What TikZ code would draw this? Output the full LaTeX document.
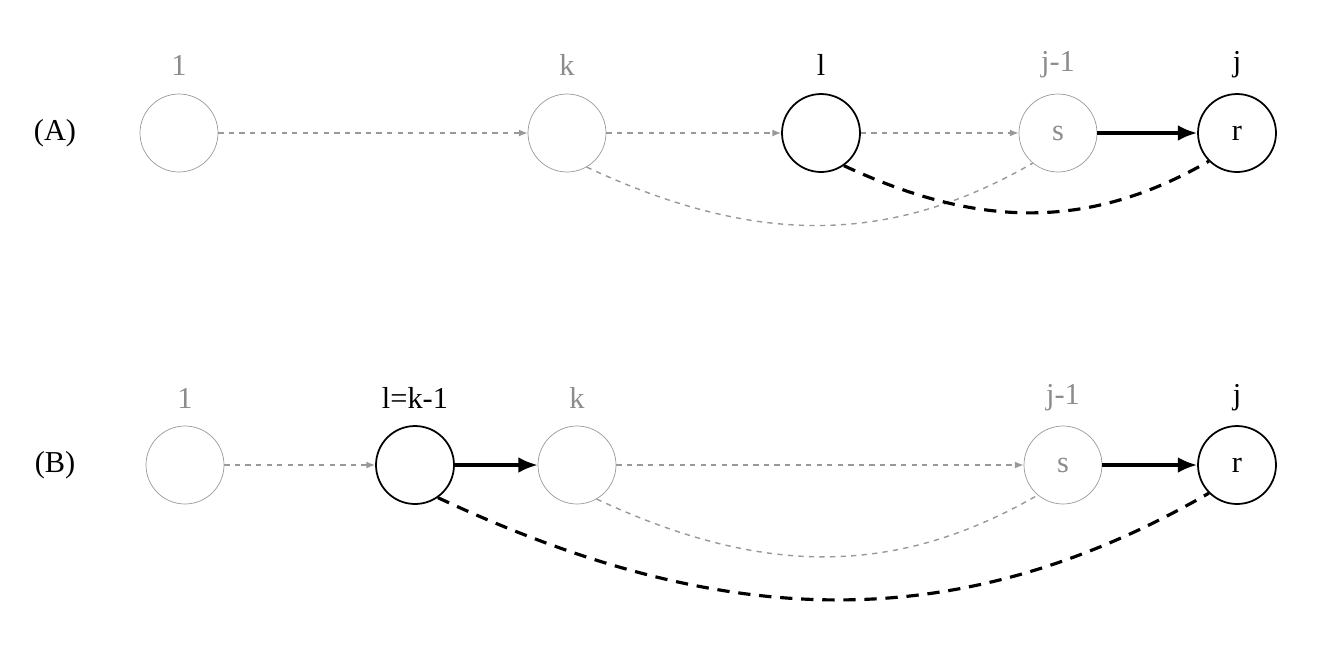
\documentclass[tikz,border=0pt]{standalone}
\usepackage{fontspec}
\setmainfont{Liberation Serif}
\usetikzlibrary{arrows.meta}
\newcommand{\nodeRadius}{0.78cm}
\newcommand{\thinLineWidth}{0.8pt}
\newcommand{\thickLineWidth}{1.8pt}
\tikzset{
  faded/.style={circle, draw=gray!80, minimum size=\nodeRadius*2, text=gray!90, font=\LARGE},
  active/.style={circle, draw=black, line width=1pt, minimum size=\nodeRadius*2, font=\LARGE},
  fadedlabel/.style={text=gray!90, font=\LARGE},
  activelabel/.style={text=black, font=\LARGE},
  fadededge/.style={gray!80, dashed, line width=\thinLineWidth, -{Latex[length=5pt,width=4pt]}},
  fadedcurve/.style={gray!80, dashed, line width=\thinLineWidth},
  activeedge/.style={black, line width=\thickLineWidth, -{Latex[length=11pt,width=9pt]}},
  activecurve/.style={black, dashed, dash pattern=on 7pt off 5pt, line width=\thickLineWidth}
}
\begin{document}
\begin{tikzpicture}[x=0.02cm, y=-0.02cm]
        \useasboundingbox (0,0) rectangle (1323,647);

        % Row A
        \node[font=\LARGE] (rowA) at (55,133) {(A)};
        \node[faded] (aOne) at (179,133) {};
        \node[faded] (aK) at (567,133) {};
        \node[active] (aL) at (821,133) {};
        \node[faded] (aS) at (1058,133) {s};
        \node[active] (aR) at (1237,133) {r};
        \node[fadedlabel] (aOneLabel) at (179,65) {1};
        \node[fadedlabel] (aKLabel) at (567,65) {k};
        \node[activelabel] (aLLabel) at (821,65) {l};
        \node[fadedlabel] (aSLabel) at (1058,65) {j-1};
        \node[activelabel] (aRLabel) at (1237,65) {j};

        % Row A edges
        \draw[fadededge] (aOne) -- (aK);
        \draw[fadededge] (aK) -- (aL);
        \draw[fadededge] (aL) -- (aS);
        \draw[activeedge] (aS) -- (aR);
        \draw[fadedcurve] (aK.-60) to[out=-25, in=-150] (aS.-130);
        \draw[activecurve] (aL.-55) to[out=-25, in=-150] (aR.-135);

        % Row B
        \node[font=\LARGE] (rowB) at (55,465) {(B)};
        \node[faded] (bOne) at (185,465) {};
        \node[active] (bL) at (415,465) {};
        \node[faded] (bK) at (577,465) {};
        \node[faded] (bS) at (1063,465) {s};
        \node[active] (bR) at (1237,465) {r};
        \node[fadedlabel] (bOneLabel) at (185,398) {1};
        \node[activelabel] (bLLabel) at (415,398) {l=k-1};
        \node[fadedlabel] (bKLabel) at (577,398) {k};
        \node[fadedlabel] (bSLabel) at (1063,398) {j-1};
        \node[activelabel] (bRLabel) at (1237,398) {j};

        % Row B edges
        \draw[fadededge] (bOne) -- (bL);
        \draw[activeedge] (bL) -- (bK);
        \draw[fadededge] (bK) -- (bS);
        \draw[activeedge] (bS) -- (bR);
        \draw[fadedcurve] (bK.-60) to[out=-25, in=-150] (bS.-130);
        \draw[activecurve] (bL.-55) to[out=-25, in=-150] (bR.-135);
\end{tikzpicture}
\end{document}
